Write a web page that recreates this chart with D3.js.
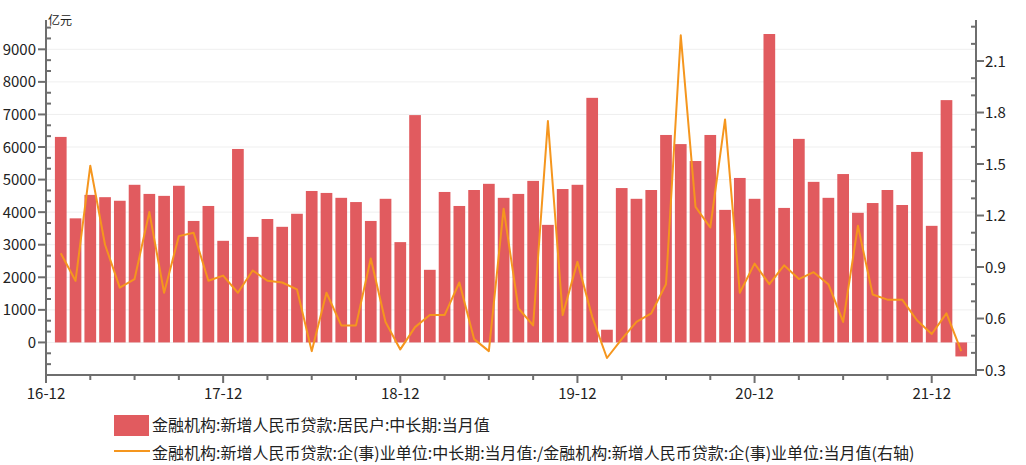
<!DOCTYPE html>
<html><head><meta charset="utf-8">
<script src="https://cdn.jsdelivr.net/npm/d3@7/dist/d3.min.js"></script>
<style>
body{margin:0;background:#fff;}
svg{display:block;font-family:"Noto Sans CJK SC","Noto Sans",sans-serif;}
</style>
</head><body>
<svg id="c" width="1026" height="465"></svg>
<script>
const months = [
 "2017-01","2017-02","2017-03","2017-04","2017-05","2017-06","2017-07","2017-08","2017-09","2017-10","2017-11","2017-12",
 "2018-01","2018-02","2018-03","2018-04","2018-05","2018-06","2018-07","2018-08","2018-09","2018-10","2018-11","2018-12",
 "2019-01","2019-02","2019-03","2019-04","2019-05","2019-06","2019-07","2019-08","2019-09","2019-10","2019-11","2019-12",
 "2020-01","2020-02","2020-03","2020-04","2020-05","2020-06","2020-07","2020-08","2020-09","2020-10","2020-11","2020-12",
 "2021-01","2021-02","2021-03","2021-04","2021-05","2021-06","2021-07","2021-08","2021-09","2021-10","2021-11","2021-12",
 "2022-01","2022-02"];
const household = [
 6310,3810,4530,4460,4350,4840,4560,4500,4810,3730,4190,3120,
 5940,3240,3790,3550,3950,4650,4590,4440,4310,3730,4410,3080,
 6980,2230,4620,4190,4680,4870,4440,4560,4960,3610,4710,4840,
 7510,390,4740,4410,4680,6370,6090,5570,6370,4070,5050,4410,
 9470,4130,6250,4930,4440,5170,3980,4280,4680,4220,5850,3580,
 7440,-430];
const ratio = [
 0.98,0.82,1.49,1.03,0.78,0.83,1.22,0.75,1.08,1.10,0.82,0.85,
 0.75,0.88,0.82,0.81,0.77,0.41,0.75,0.56,0.56,0.95,0.58,0.42,
 0.55,0.62,0.62,0.81,0.48,0.41,1.24,0.66,0.56,1.75,0.62,0.93,
 0.61,0.37,0.48,0.58,0.63,0.80,2.25,1.25,1.13,1.76,0.75,0.92,
 0.80,0.91,0.83,0.87,0.80,0.58,1.14,0.74,0.71,0.71,0.59,0.51,
 0.63,0.41];
const xTickLabels = ["16-12","17-12","18-12","19-12","20-12","21-12"];
const leftTicks = [0,1000,2000,3000,4000,5000,6000,7000,8000,9000];
const rightTicks = [0.3,0.6,0.9,1.2,1.5,1.8,2.1];
const unitLabel = "亿元";
const legendBar = "金融机构:新增人民币贷款:居民户:中长期:当月值";
const legendLine = "金融机构:新增人民币贷款:企(事)业单位:中长期:当月值:/金融机构:新增人民币贷款:企(事)业单位:当月值(右轴)";

const barColor = "#E15B5F", lineColor = "#F5961E", axisColor = "#6e6e6e", textColor = "#222";
const svg = d3.select("#c");
const L = 46, R = 976, T = 20, B = 375;

// month index relative to 2016-12
const mIdx = s => { const [y, m] = s.split("-").map(Number); return (y - 2016) * 12 + m - 12; };
const labIdx = s => { const [y, m] = s.split("-").map(Number); return (y - 16) * 12 + m - 12; };

const x = d3.scaleLinear().domain([0, 63]).range([L, R]);
const yL = d3.scaleLinear().domain([-1000, 9900]).range([B, T]);
const yR = d3.scaleLinear().domain([0.271, 2.339]).range([B, T]);

// grid
svg.append("g").selectAll("line").data(leftTicks).join("line")
  .attr("x1", L).attr("x2", R).attr("y1", d => yL(d)).attr("y2", d => yL(d))
  .attr("stroke", "#efefef").attr("stroke-width", 1);

// bars
const bw = 11.7;
svg.append("g").selectAll("rect").data(months).join("rect")
  .attr("x", (d, i) => x(mIdx(d)) - bw / 2)
  .attr("width", bw)
  .attr("y", (d, i) => Math.min(yL(household[i]), yL(0)))
  .attr("height", (d, i) => Math.abs(yL(household[i]) - yL(0)))
  .attr("fill", barColor);

// line
const line = d3.line().x((d, i) => x(mIdx(months[i]))).y(d => yR(d));
svg.append("path").datum(ratio).attr("d", line)
  .attr("fill", "none").attr("stroke", lineColor).attr("stroke-width", 2)
  .attr("stroke-linejoin", "round");

// axes
const ax = svg.append("g").attr("stroke", axisColor).attr("stroke-width", 2).attr("fill", "none");
ax.append("path").attr("d", `M${L},${T}V${B}H${R}V${T}`);

// left ticks
const leftMinor = d3.range(-3, 30).map(k => k * 1000 / 3).filter(v => Math.abs(v / 1000 - Math.round(v / 1000)) > 1e-6 && v > -1000 && v < 9900);
ax.selectAll(".lmaj").data(leftTicks).join("line").attr("class", "lmaj")
  .attr("x1", L - 8).attr("x2", L).attr("y1", d => yL(d)).attr("y2", d => yL(d));
ax.selectAll(".lmin").data(leftMinor).join("line").attr("class", "lmin")
  .attr("x1", L).attr("x2", L + 5).attr("y1", d => yL(d)).attr("y2", d => yL(d));
svg.append("g").selectAll("text").data(leftTicks).join("text")
  .attr("x", L - 10).attr("y", d => yL(d) + 5.5).attr("text-anchor", "end")
  .attr("font-size", 15).attr("fill", textColor).text(d => d);

// right ticks
const rightMinor = d3.range(3, 24).map(k => k / 10).filter(v => !rightTicks.some(t => Math.abs(t - v) < 1e-6));
ax.selectAll(".rmaj").data(rightTicks).join("line").attr("class", "rmaj")
  .attr("x1", R).attr("x2", R + 8).attr("y1", d => yR(d)).attr("y2", d => yR(d));
ax.selectAll(".rmin").data(rightMinor).join("line").attr("class", "rmin")
  .attr("x1", R - 5).attr("x2", R).attr("y1", d => yR(d)).attr("y2", d => yR(d));
svg.append("g").selectAll("text").data(rightTicks).join("text")
  .attr("x", R + 9).attr("y", d => yR(d) + 5.5).attr("text-anchor", "start")
  .attr("font-size", 15).attr("fill", textColor).text(d => d.toFixed(1));

// x ticks
const xMajor = xTickLabels.map(labIdx);
const xMinor = d3.range(3, 63, 3).filter(v => !xMajor.includes(v));
ax.selectAll(".xmaj").data(xMajor).join("line").attr("class", "xmaj")
  .attr("x1", d => x(d)).attr("x2", d => x(d)).attr("y1", B).attr("y2", B + 8);
ax.selectAll(".xmin").data(xMinor).join("line").attr("class", "xmin")
  .attr("x1", d => x(d)).attr("x2", d => x(d)).attr("y1", B).attr("y2", B + 5);
svg.append("g").selectAll("text").data(xTickLabels).join("text")
  .attr("x", d => x(labIdx(d))).attr("y", 399).attr("text-anchor", "middle")
  .attr("font-size", 15).attr("fill", textColor).text(d => d);

// unit
svg.append("text").attr("x", 48).attr("y", 25).attr("font-size", 12).attr("fill", textColor).text(unitLabel);

// legend
svg.append("rect").attr("x", 114).attr("y", 415).attr("width", 35).attr("height", 21).attr("fill", barColor);
svg.append("text").attr("x", 152).attr("y", 431).attr("font-size", 16).attr("fill", textColor).text(legendBar);
svg.append("line").attr("x1", 114).attr("x2", 150).attr("y1", 451).attr("y2", 451)
  .attr("stroke", lineColor).attr("stroke-width", 2);
svg.append("text").attr("x", 152).attr("y", 459).attr("font-size", 16).attr("fill", textColor).text(legendLine);
</script>
</body></html>
